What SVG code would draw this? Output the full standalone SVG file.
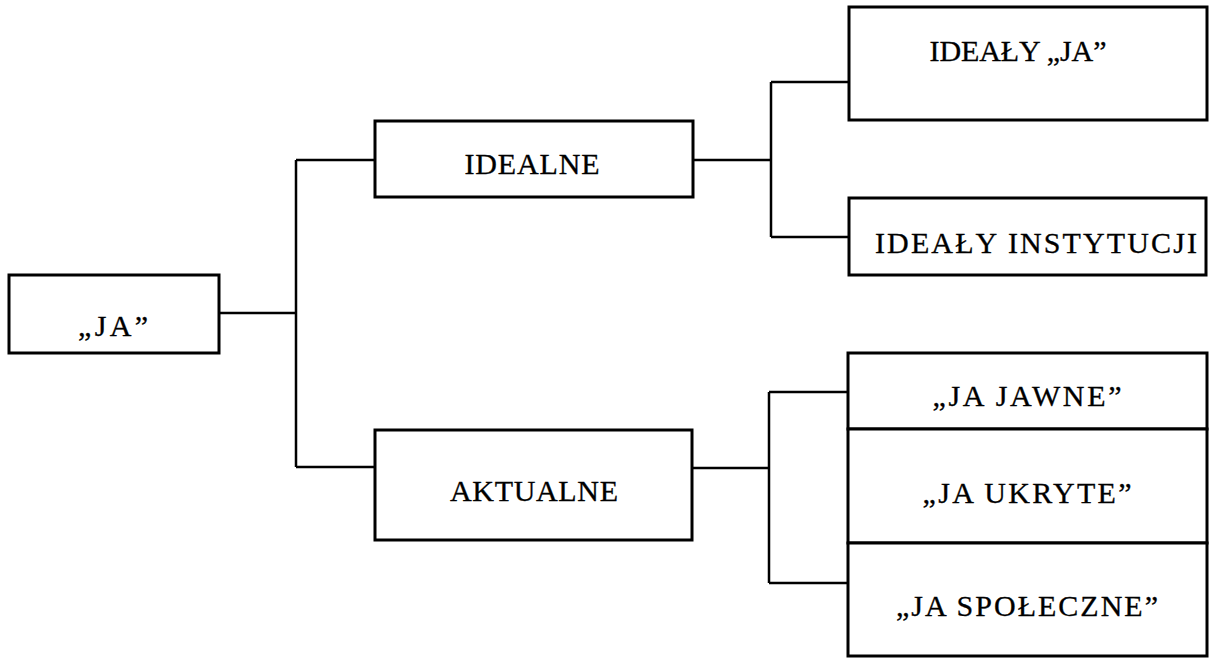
<svg xmlns="http://www.w3.org/2000/svg" width="1213" height="658" viewBox="0 0 1213 658">
<style>
.box{fill:#fff;stroke:#000;stroke-width:3}
.ln{fill:none;stroke:#000;stroke-width:2.5}
text{font-family:"Liberation Serif","Times New Roman",serif;font-size:30px;fill:#000;text-anchor:middle;stroke:#000;stroke-width:0.3}
</style>
<rect width="1213" height="658" fill="#fff"/>
<g id="connectors">
<path class="ln" d="M220 313H296M296 160V467M296 160H375M296 467H375"/>
<path class="ln" d="M693 160H771M771 82V237M771 82H849M771 237H849"/>
<path class="ln" d="M692 468H769M769 392V583M769 392H848M769 583H848"/>
</g>
<g id="ja"><rect class="box" x="9" y="275" width="210" height="78"/><text x="113" y="336" textLength="70" lengthAdjust="spacing">„JA”</text></g>
<g id="idealne"><rect class="box" x="375" y="121" width="318" height="76"/><text x="532" y="174" textLength="135" lengthAdjust="spacing">IDEALNE</text></g>
<g id="aktualne"><rect class="box" x="375" y="430" width="317" height="110"/><text x="534" y="501" textLength="168" lengthAdjust="spacing">AKTUALNE</text></g>
<g id="idealy-ja"><rect class="box" x="849" y="7" width="358" height="113"/><text x="1018" y="61" textLength="177" lengthAdjust="spacing">IDEAŁY „JA”</text></g>
<g id="idealy-instytucji"><rect class="box" x="849" y="198" width="357" height="77"/><text x="1036" y="253" textLength="322" lengthAdjust="spacing">IDEAŁY  INSTYTUCJI</text></g>
<g id="ja-jawne"><rect class="box" x="848" y="353" width="359" height="76"/><text x="1027" y="406" textLength="189" lengthAdjust="spacing">„JA JAWNE”</text></g>
<g id="ja-ukryte"><rect class="box" x="848" y="429" width="359" height="114"/><text x="1027" y="503" textLength="209" lengthAdjust="spacing">„JA UKRYTE”</text></g>
<g id="ja-spoleczne"><rect class="box" x="848" y="543" width="359" height="113"/><text x="1027" y="616" textLength="262" lengthAdjust="spacing">„JA SPOŁECZNE”</text></g>
</svg>
